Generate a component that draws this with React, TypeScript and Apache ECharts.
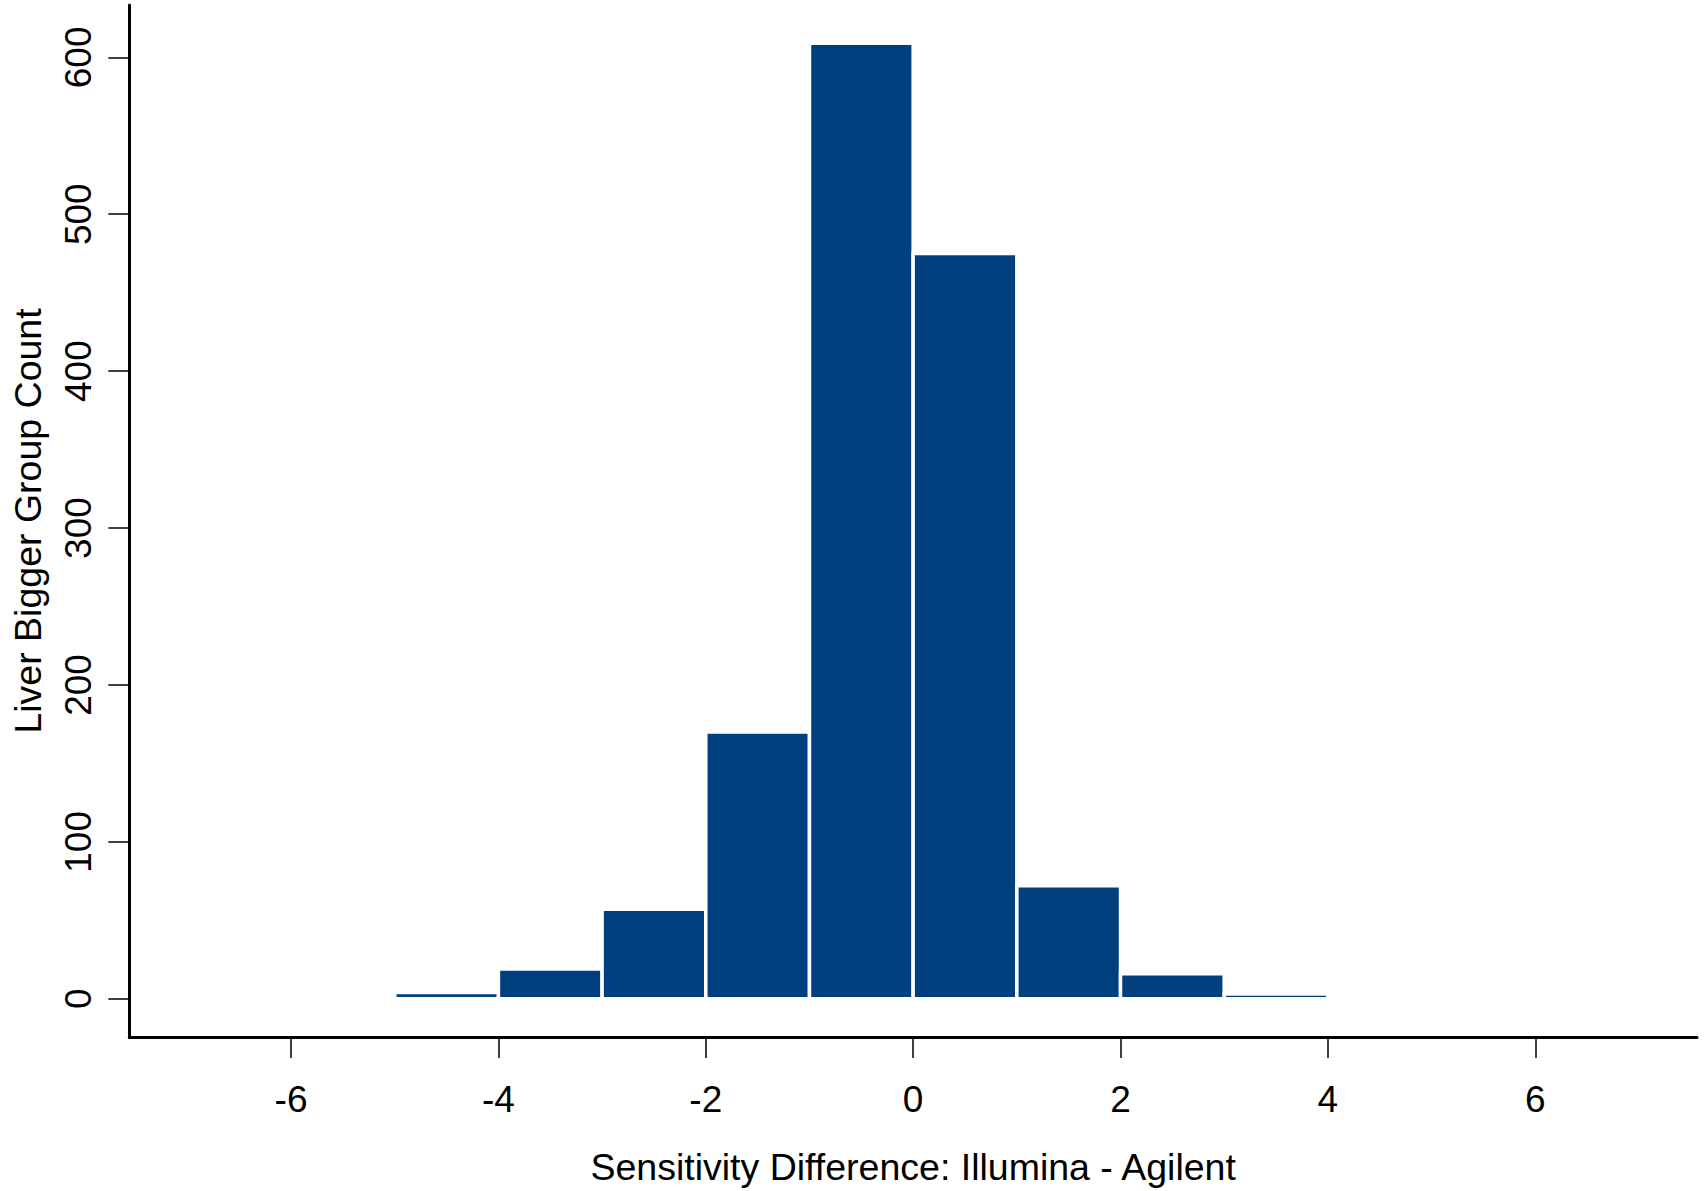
import React, { useEffect, useRef } from "react";
import * as echarts from "echarts";

const binStarts = [-5, -4, -3, -2, -1, 0, 1, 2, 3];
const binEnds = [-4, -3, -2, -1, 0, 1, 2, 3, 4];
const counts = [4, 19, 57, 170, 609, 475, 72, 16, 3];
const xTicks = [-6, -4, -2, 0, 2, 4, 6];
const yTicks = [0, 100, 200, 300, 400, 500, 600];
const xTitle = "Sensitivity Difference: Illumina - Agilent";
const yTitle = "Liver Bigger Group Count";

const FONT = "'Liberation Sans', Arial, sans-serif";
const BAR = "#00407F";

export default function App() {
  const ref = useRef<HTMLDivElement>(null);
  useEffect(() => {
    if (!ref.current) return;
    const chart = echarts.init(ref.current, undefined, { renderer: "svg" });
    const xLim = [-7, 7];
    const xPad = (xLim[1] - xLim[0]) * 0.04;
    const yMaxData = Math.max(...counts);
    const yPad = yMaxData * 0.04;
    chart.setOption({
      animation: false,
      backgroundColor: "#ffffff",
      grid: { left: 129.3, right: 8, top: 5, bottom: 151.5, containLabel: false },
      xAxis: {
        type: "value",
        min: xLim[0] - xPad,
        max: xLim[1] + xPad,
        name: xTitle,
        nameLocation: "middle",
        nameGap: 111,
        nameTextStyle: { fontFamily: FONT, fontSize: 37.5, color: "#000" },
        axisLine: { show: true, onZero: false, lineStyle: { color: "#000", width: 3 } },
        axisTick: { show: true, customValues: xTicks, length: 21, lineStyle: { color: "#000", width: 1.5 } },
        axisLabel: { customValues: xTicks, margin: 44, fontFamily: FONT, fontSize: 37, color: "#000" },
        splitLine: { show: false },
      },
      yAxis: {
        type: "value",
        min: -yPad,
        max: yMaxData + yPad,
        name: yTitle,
        nameLocation: "middle",
        nameGap: 82,
        nameTextStyle: { fontFamily: FONT, fontSize: 37.5, color: "#000" },
        axisLine: { show: true, onZero: false, lineStyle: { color: "#000", width: 3 } },
        axisTick: { show: true, customValues: yTicks, length: 21, lineStyle: { color: "#000", width: 1.5 } },
        axisLabel: { customValues: yTicks, rotate: 90, margin: 32, fontFamily: FONT, fontSize: 37, color: "#000" },
        splitLine: { show: false },
      },
      series: [
        {
          type: "custom",
          data: binStarts.map((s, i) => [s, binEnds[i], counts[i]]),
          encode: { x: [0, 1], y: 2 },
          renderItem: (params: any, api: any) => {
            const x0 = api.value(0);
            const x1 = api.value(1);
            const c = api.value(2);
            const p0 = api.coord([x0, c]);
            const p1 = api.coord([x1, 0]);
            return {
              type: "rect",
              shape: { x: p0[0], y: p0[1], width: p1[0] - p0[0], height: p1[1] - p0[1] },
              style: { fill: BAR, stroke: "#ffffff", lineWidth: 3.5 },
            };
          },
        },
      ],
    });
    return () => chart.dispose();
  }, []);
  return (
    <div
      ref={ref}
      style={{ position: "absolute", left: 0, top: 0, width: 1705, height: 1191, background: "#fff" }}
    />
  );
}
